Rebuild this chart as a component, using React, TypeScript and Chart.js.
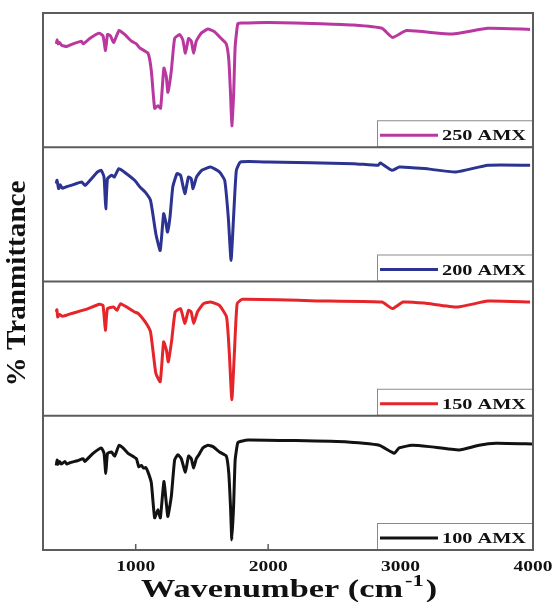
import React, { useEffect, useRef } from "react";
import { Chart, registerables } from "chart.js";
Chart.register(...registerables);

// ---- data ----
const xTicks = [1000, 2000, 3000, 4000];
const xTickLabels = ["1000", "2000", "3000", "4000"];
const seriesNames = ["100 AMX", "150 AMX", "200 AMX", "250 AMX"];
const seriesColors = ["#121212", "#E6252B", "#2C3391", "#B8389F"];

const wn100 = [400, 407, 414, 425, 440, 465, 480, 503, 560, 603, 616, 678, 741, 761, 774, 787, 817, 842, 874, 904, 942, 1005, 1023, 1043, 1060, 1075, 1093, 1118, 1143, 1168, 1186, 1213, 1231, 1243, 1269, 1294, 1319, 1344, 1375, 1399, 1420, 1437, 1457, 1477, 1507, 1545, 1583, 1633, 1684, 1703, 1716, 1726, 1739, 1751, 1771, 1797, 1850, 2200, 2600, 2839, 2952, 2989, 3087, 3216, 3442, 3592, 3720, 4000];
const t100 = [63, 67, 64, 66, 64, 66, 64, 65, 66.5, 68, 66, 72, 76, 72, 57, 72, 73, 70, 78, 76, 72, 68, 62, 63, 61, 61.5, 58, 50, 24, 30, 24, 51, 35, 25, 40, 67, 71, 68, 58, 70, 68, 61, 68, 71, 76, 78, 77, 73, 70, 57, 32, 7.5, 32, 67, 80, 81, 82, 81.5, 80.5, 78, 72, 76, 78, 77, 74.5, 78, 79.5, 79];

const wn150 = [400, 405, 411, 425, 446, 480, 512, 619, 726, 753, 771, 787, 833, 859, 886, 992, 1020, 1072, 1112, 1152, 1185, 1211, 1232, 1246, 1272, 1298, 1339, 1371, 1398, 1419, 1438, 1466, 1512, 1566, 1632, 1686, 1707, 1726, 1745, 1766, 1806, 2459, 2859, 2939, 3019, 3179, 3432, 3659, 3978];
const t150 = [77.3, 79, 73.6, 75.5, 74.1, 75, 76.1, 79, 83, 82.2, 63.7, 79.8, 81, 78.5, 83.5, 77.3, 76.1, 69.9, 62.4, 31.6, 25.4, 55, 48.9, 40.2, 56.3, 77.3, 79.8, 68.7, 78.5, 77.3, 68.7, 77.3, 83.5, 84.7, 82.2, 73.6, 46.4, 11.9, 46.4, 83.5, 86.7, 85.4, 84.7, 79.8, 84.7, 83.9, 81, 85.4, 84.7];

const wn200 = [400, 406, 418, 430, 445, 472, 512, 592, 619, 712, 740, 761, 774, 787, 819, 838, 873, 913, 992, 1032, 1072, 1112, 1152, 1185, 1211, 1227, 1240, 1259, 1280, 1312, 1339, 1371, 1398, 1419, 1433, 1459, 1499, 1566, 1632, 1672, 1699, 1720, 1739, 1760, 1792, 2000, 2645, 2832, 2846, 2934, 2992, 3179, 3419, 3659, 3978];
const t200 = [72.9, 75.4, 69.2, 72, 69.5, 70.4, 71.6, 74.1, 71.6, 81.6, 82.8, 77.8, 54.2, 76.6, 79.1, 77.8, 84.1, 81.6, 75.4, 70.4, 66.6, 60.4, 35.6, 23.1, 50.5, 44.3, 36.8, 48, 70.4, 80.4, 79.1, 65.4, 77.8, 76.6, 69.2, 77.8, 82.8, 85.3, 81.6, 75.4, 48, 15.7, 48, 82.8, 89, 89, 87.8, 86.6, 88.3, 82.8, 85.3, 84.1, 81.6, 86.6, 86.6];

const wn250 = [400, 407, 414, 425, 440, 478, 527, 590, 603, 653, 723, 753, 772, 787, 809, 834, 874, 917, 968, 1005, 1030, 1093, 1118, 1143, 1168, 1188, 1213, 1231, 1243, 1269, 1294, 1332, 1356, 1375, 1399, 1420, 1437, 1457, 1495, 1545, 1595, 1646, 1684, 1703, 1716, 1726, 1739, 1751, 1771, 1797, 2000, 2400, 2645, 2859, 2939, 3045, 3392, 3659, 3977];
const t250 = [77, 80, 77, 78, 76, 75, 77, 79, 77, 81, 85, 83, 72, 84, 83, 78, 87, 84, 79, 77, 74, 70, 57, 29, 31, 29, 59, 52.5, 41, 57, 81, 84, 80, 70, 81, 79, 70, 79, 85, 88, 86, 81, 77, 65, 40, 16, 38, 75, 92, 92.5, 93, 92, 91, 88.6, 81.8, 86.9, 84.3, 88.6, 87.8];

const xTitle = "Wavenumber (cm";
const xTitleSup = "-1";
const xTitleEnd = ")";
const yTitle = "% Tranmittance";

const FRAME = "#5c5c5c";
const FONT = '"Liberation Serif", "Times New Roman", serif';

function fitText(ctx: CanvasRenderingContext2D, text: string, x: number, y: number, size: number, width: number, align: CanvasTextAlign) {
  ctx.save();
  ctx.font = `bold ${size}px ${FONT}`;
  const w = ctx.measureText(text).width;
  ctx.translate(x, y);
  ctx.scale(width / w, 1);
  ctx.textAlign = align;
  ctx.textBaseline = "alphabetic";
  ctx.fillText(text, 0, 0);
  ctx.restore();
}

const decorPlugin = {
  id: "decor",
  afterDraw(chart: any) {
    const ctx: CanvasRenderingContext2D = chart.ctx;
    const xs = chart.scales.x;
    const ys = chart.scales.y;
    const area = chart.chartArea;
    ctx.save();
    ctx.fillStyle = "#111";
    // inner tick marks + labels
    ctx.strokeStyle = FRAME;
    ctx.lineWidth = 1.5;
    xTicks.forEach((v, i) => {
      const px = xs.getPixelForValue(v);
      ctx.beginPath();
      ctx.moveTo(px, area.bottom);
      ctx.lineTo(px, area.bottom - 6);
      ctx.stroke();
      fitText(ctx, xTickLabels[i], px, area.bottom + 21, 15, 39, "center");
    });
    // x title
    ctx.save();
    ctx.font = `bold 26px ${FONT}`;
    const w1 = ctx.measureText(xTitle).width;
    const sx = 262 / w1;
    ctx.restore();
    const x0 = 141;
    const base = 597;
    fitText(ctx, xTitle, x0, base, 26, 262, "left");
    ctx.save();
    ctx.font = `bold 17px ${FONT}`;
    const ws = ctx.measureText(xTitleSup).width * sx;
    ctx.restore();
    fitText(ctx, xTitleSup, x0 + 264, base - 11, 17, ws, "left");
    ctx.save();
    ctx.font = `bold 26px ${FONT}`;
    const we = ctx.measureText(xTitleEnd).width * sx;
    ctx.restore();
    fitText(ctx, xTitleEnd, x0 + 266 + ws, base, 26, we, "left");
    // y title
    ctx.save();
    ctx.translate(25, (area.top + area.bottom) / 2 + 2);
    ctx.rotate(-Math.PI / 2);
    fitText(ctx, yTitle, 0, 0, 28, 206, "center");
    ctx.restore();
    // legends in each panel
    seriesNames.forEach((name, i) => {
      const pb = ys.getPixelForValue(i);
      const left = area.right - 156;
      const top = pb - 27;
      ctx.fillStyle = "#ffffff";
      ctx.fillRect(left, top, 156, 27);
      ctx.strokeStyle = "#8a8a8a";
      ctx.lineWidth = 1;
      ctx.strokeRect(left + 0.5, top + 0.5, 155, 26);
      ctx.strokeStyle = seriesColors[i];
      ctx.lineWidth = 3;
      ctx.beginPath();
      ctx.moveTo(left + 3, pb - 12);
      ctx.lineTo(left + 61, pb - 12);
      ctx.stroke();
      ctx.fillStyle = "#111";
      fitText(ctx, name, left + 65, pb - 7, 15, 84, "left");
    });
    // redraw frame on top
    ctx.strokeStyle = FRAME;
    ctx.lineWidth = 2;
    ctx.strokeRect(area.left, area.top, area.right - area.left, area.bottom - area.top);
    for (let k = 1; k < 4; k++) {
      const py = ys.getPixelForValue(k);
      ctx.beginPath();
      ctx.moveTo(area.left, py);
      ctx.lineTo(area.right, py);
      ctx.stroke();
    }
    ctx.restore();
  },
};

export default function App() {
  const ref = useRef<HTMLCanvasElement>(null);
  useEffect(() => {
    document.body.style.margin = "0";
    const panels = [
      { wn: wn100, t: t100 },
      { wn: wn150, t: t150 },
      { wn: wn200, t: t200 },
      { wn: wn250, t: t250 },
    ];
    const datasets = panels.map((p, i) => ({
      label: seriesNames[i],
      data: p.wn.map((x, k) => ({ x, y: i + p.t[k] / 100 })),
      borderColor: seriesColors[i],
      borderWidth: 3,
      pointRadius: 0,
      tension: 0.15,
      borderJoinStyle: "round" as const,
      fill: false,
    }));
    const chart = new Chart(ref.current as HTMLCanvasElement, {
      type: "line",
      data: { datasets },
      options: {
        animation: false,
        responsive: false,
        layout: { padding: { left: 43, top: 13, right: 23, bottom: 52 } },
        plugins: { legend: { display: false }, tooltip: { enabled: false } },
        scales: {
          x: {
            type: "linear",
            min: 300,
            max: 4000,
            afterBuildTicks: (s: any) => {
              s.ticks = xTicks.map((v) => ({ value: v }));
            },
            ticks: { display: false },
            grid: { display: false, drawTicks: false },
            border: { display: true, color: FRAME, width: 2 },
          },
          y: {
            min: 0,
            max: 4,
            afterBuildTicks: (s: any) => {
              s.ticks = [0, 1, 2, 3, 4].map((v) => ({ value: v }));
            },
            ticks: { display: false },
            grid: { display: false, drawTicks: false },
            border: { display: true, color: FRAME, width: 2 },
          },
        },
      },
      plugins: [decorPlugin],
    });
    return () => chart.destroy();
  }, []);
  return (
    <div style={{ position: "absolute", left: 0, top: 0, width: 556, height: 602, background: "#fff" }}>
      <canvas ref={ref} width={556} height={602} style={{ display: "block", width: 556, height: 602 }} />
    </div>
  );
}
